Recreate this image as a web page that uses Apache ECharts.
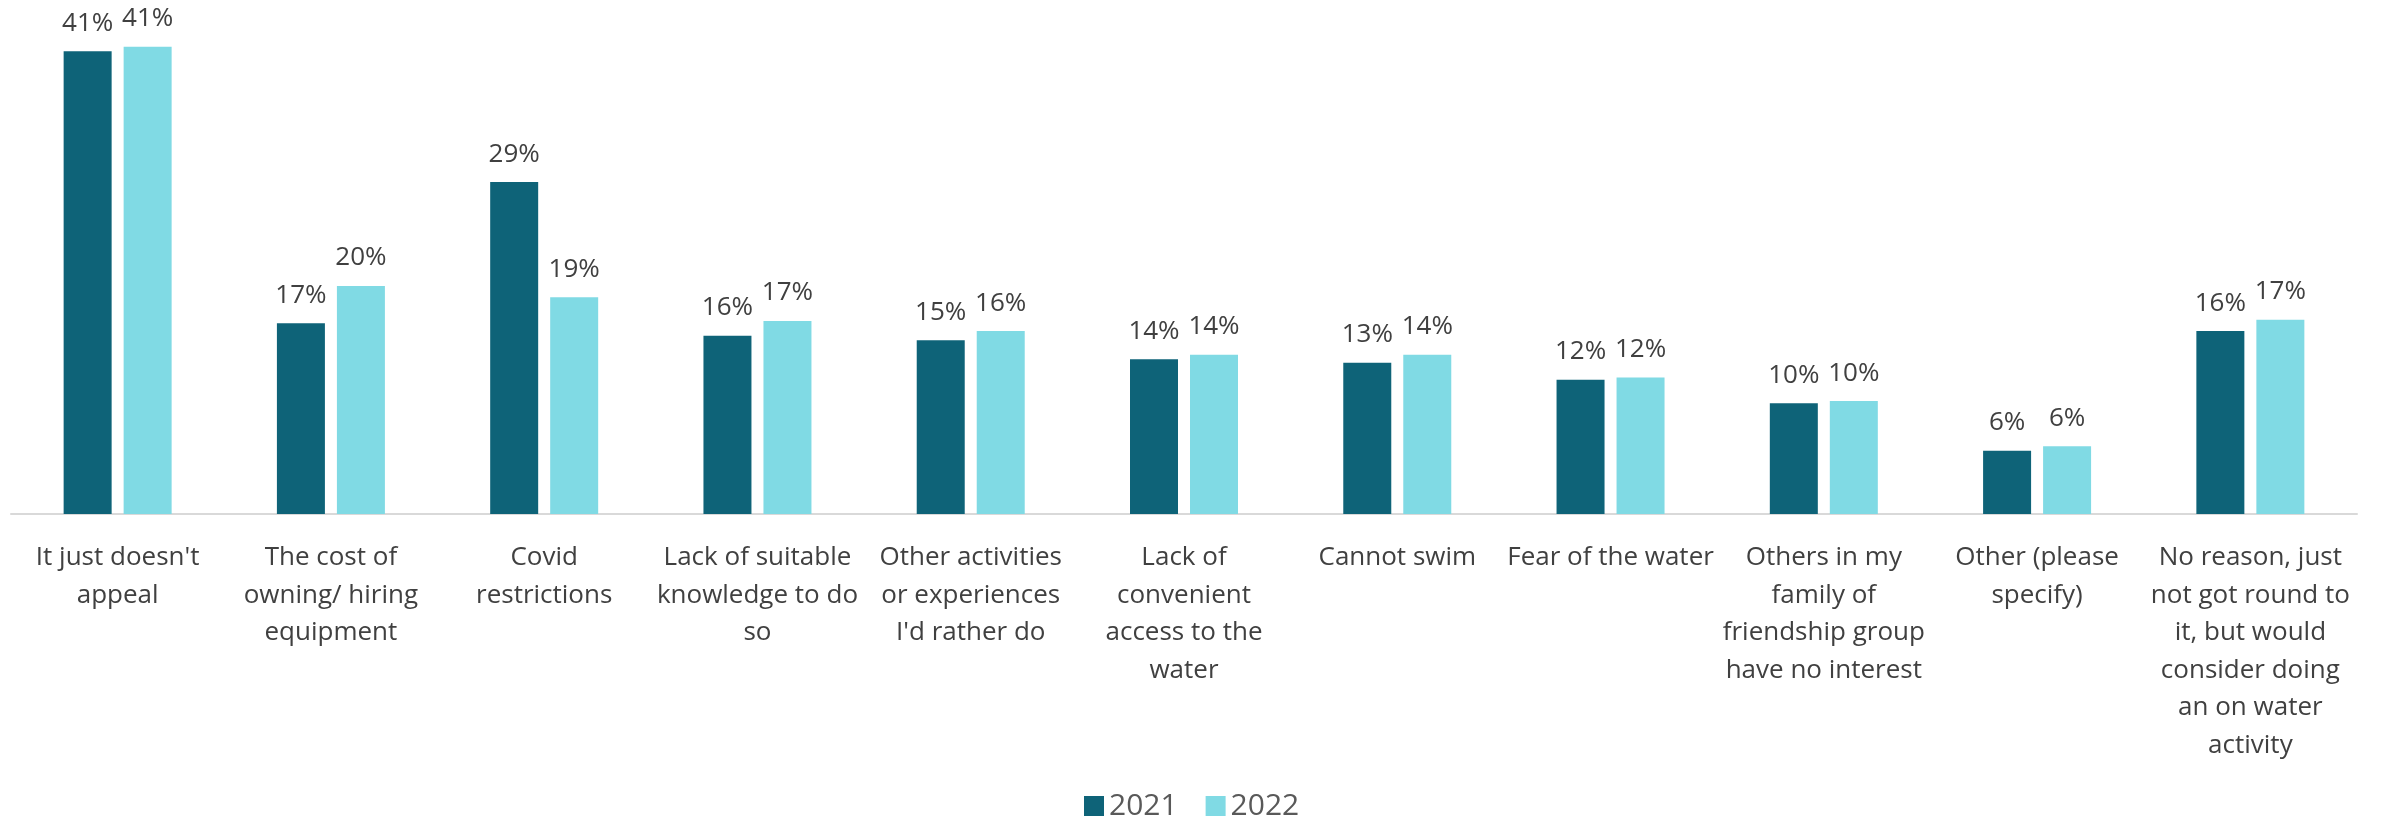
<!DOCTYPE html>
<html>
<head>
<meta charset="utf-8">
<script src="https://cdn.jsdelivr.net/npm/echarts@6/dist/echarts.min.js"></script>
<style type="text/css">
html, body { margin: 0; padding: 0; background: #ffffff; }
#chart { width: 2385px; height: 817px; }
</style>
</head>
<body>
<div id="chart"></div>
<script type="text/javascript">
// 类目（按参考图的换行）
var categories = [
    "It just doesn't\nappeal",
    "The cost of\nowning/ hiring\nequipment",
    "Covid\nrestrictions",
    "Lack of suitable\nknowledge to do\nso",
    "Other activities\nor experiences\nI'd rather do",
    "Lack of\nconvenient\naccess to the\nwater",
    "Cannot swim",
    "Fear of the water",
    "Others in my\nfamily of\nfriendship group\nhave no interest",
    "Other (please\nspecify)",
    "No reason, just\nnot got round to\nit, but would\nconsider doing\nan on water\nactivity"
];
var seriesNames = ['2021', '2022'];
var values2021 = [41.0, 16.9, 29.4, 15.8, 15.4, 13.7, 13.4, 11.9, 9.8, 5.6, 16.2];
var values2022 = [41.4, 20.2, 19.2, 17.1, 16.2, 14.1, 14.1, 12.1, 10.0, 6.0, 17.2];

var FONT = '"Open Sans", "Noto Sans", sans-serif';

var myChart = echarts.init(document.getElementById('chart'));

function barLabel() {
    return {
        show: true,
        position: 'top',
        distance: 15,
        color: '#404040',
        fontFamily: FONT,
        fontSize: 26,
        formatter: function (p) { return Math.round(p.value) + '%'; }
    };
}

var option = {
    animation: false,
    textStyle: { fontFamily: FONT },
    legend: {
        data: seriesNames,
        left: 1079,
        top: 786,
        itemWidth: 20,
        itemHeight: 20,
        itemGap: 28,
        icon: 'rect',
        textStyle: {
            color: '#595959',
            fontFamily: FONT,
            fontSize: 30,
            padding: [0, 0, 0, 0]
        }
    },
    grid: {
        left: 11,
        right: 28,
        top: 6,
        bottom: 303,
        containLabel: false
    },
    xAxis: {
        type: 'category',
        data: categories,
        axisTick: { show: false },
        axisLine: { lineStyle: { color: '#D9D9D9', width: 2 } },
        axisLabel: {
            interval: 0,
            margin: 25,
            color: '#404040',
            fontFamily: FONT,
            fontSize: 26,
            lineHeight: 37.5,
            align: 'center'
        }
    },
    yAxis: {
        type: 'value',
        min: 0,
        max: 45,
        show: false
    },
    series: [
        {
            name: seriesNames[0],
            type: 'bar',
            barWidth: 48,
            barGap: '25%',
            itemStyle: { color: '#0E6378' },
            label: barLabel(),
            data: values2021
        },
        {
            name: seriesNames[1],
            type: 'bar',
            barWidth: 48,
            barGap: '25%',
            itemStyle: { color: '#80DAE4' },
            label: barLabel(),
            data: values2022
        }
    ]
};

myChart.setOption(option);
</script>
</body>
</html>
